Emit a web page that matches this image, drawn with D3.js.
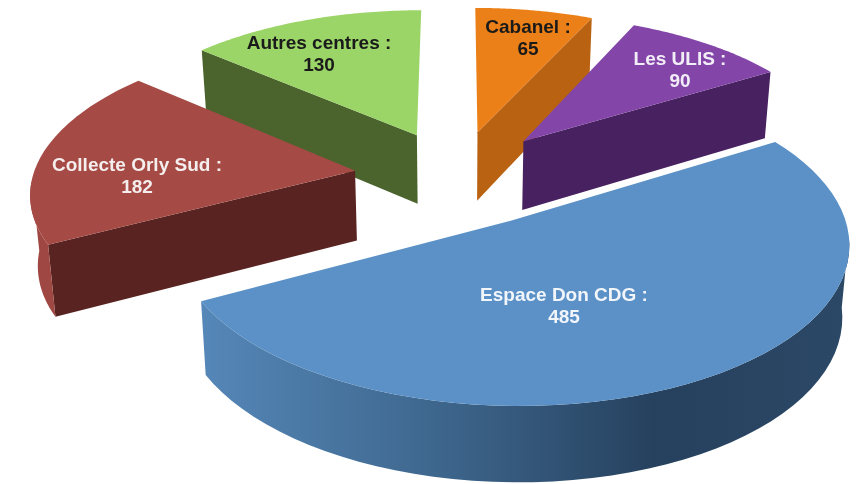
<!DOCTYPE html>
<html>
<head>
<meta charset="utf-8">
<script src="https://cdn.jsdelivr.net/npm/d3@7"></script>
<style>
  html, body { margin: 0; padding: 0; background: #fff; }
  svg { display: block; filter: blur(0.4px); }
  text { font-family: "Liberation Sans", Arial, sans-serif; font-weight: bold; font-size: 19px; text-anchor: middle; }
</style>
</head>
<body>
<svg id="chart" width="865" height="484"></svg>
<script>
const names = ["Cabanel", "Les ULIS", "Espace Don CDG", "Collecte Orly Sud", "Autres centres"];
const values = [65, 90, 485, 182, 130];

const topColors = ["#ec8018", "#8445a8", "#5b91c6", "#a54a44", "#9bd467"];
const wallColors = ["#b96212", "#482160", "#253f5b", "#582320", "#4b642e"];
const rimColors = ["#b96212", "#482160", "url(#blue-rim)", "#9f4742", "#4b642e"];
const textColors = ["#1a1a1a", "#f2eef8", "#f2f6fb", "#f5eeee", "#1a1a1a"];
const explodes = [0.31, 0.32, 0.33, 0.32, 0.31];
const labelX = [528, 680, 564, 137, 319];
const labelY = [33, 65, 301, 171, 49];

// projection of the pie plane, with a little perspective
const cx = 457;
const cy = 176;
const scaleX = 322;
const scaleY = 150;
const perspective = 0.125;
const thickness = 70;
const converge = 0.018;

function project(u, v) {
  const w = 1 + perspective * v;
  return [cx + (scaleX * u) / w, cy - (scaleY * v) / w];
}

// same point on the underside of the slice
function sink(u, v) {
  const p = project(u, v);
  return [p[0] + (cx - p[0]) * converge, p[1] + thickness * (1 - 0.07 * v)];
}

const svg = d3.select("#chart");

const gradient = svg.append("defs").append("linearGradient")
  .attr("id", "blue-rim")
  .attr("gradientUnits", "userSpaceOnUse")
  .attr("x1", 200).attr("x2", 850).attr("y1", 0).attr("y2", 0);
gradient.append("stop").attr("offset", "0").attr("stop-color", "#5587b8");
gradient.append("stop").attr("offset", "0.35").attr("stop-color", "#3f688f");
gradient.append("stop").attr("offset", "0.7").attr("stop-color", "#26415e");
gradient.append("stop").attr("offset", "1").attr("stop-color", "#2b4866");

const pie = d3.pie().sort(null).value((d) => d);
const line = d3.line();

const slices = pie(values).map((d, i) => {
  const mid = (d.startAngle + d.endAngle) / 2;
  const ox = explodes[i] * Math.sin(mid);
  const oy = explodes[i] * Math.cos(mid);
  const arc = d3.range(0, 61).map((k) => {
    const a = d.startAngle + ((d.endAngle - d.startAngle) * k) / 60;
    return [ox + Math.sin(a), oy + Math.cos(a)];
  });
  return { i, ox, oy, arc, start: d.startAngle, end: d.endAngle };
});

function drawWall(g, s, end) {
  g.append("path")
    .attr("d", line([
      project(s.ox, s.oy),
      project(end[0], end[1]),
      sink(end[0], end[1]),
      sink(s.ox, s.oy),
    ]) + "Z")
    .attr("fill", wallColors[s.i]);
}

// far slices first so the nearer ones paint over them
slices
  .slice()
  .sort((a, b) => b.oy - a.oy)
  .forEach((s) => {
    const g = svg.append("g");

    // only the cut faces turned towards the viewer are drawn
    if (Math.sin(s.start) < -1e-6) drawWall(g, s, s.arc[0]);
    if (Math.sin(s.end) > 1e-6) drawWall(g, s, s.arc[s.arc.length - 1]);

    // same for the outer rim: just the part of the arc facing front
    const front = s.arc.filter((p) => p[1] - s.oy < -0.05);
    if (front.length > 1) {
      const rimTop = front.map((p) => project(p[0], p[1]));
      const rimBottom = front.map((p) => sink(p[0], p[1])).reverse();
      g.append("path")
        .attr("d", line(rimTop.concat(rimBottom)) + "Z")
        .attr("fill", rimColors[s.i]);
    }

    const topEdge = s.arc.map((p) => project(p[0], p[1]));
    g.append("path")
      .attr("d", line([project(s.ox, s.oy)].concat(topEdge)) + "Z")
      .attr("fill", topColors[s.i]);
  });

names.forEach((name, i) => {
  const label = svg.append("text")
    .attr("x", labelX[i])
    .attr("y", labelY[i])
    .attr("fill", textColors[i]);
  label.append("tspan").attr("x", labelX[i]).text(name + " :");
  label.append("tspan").attr("x", labelX[i]).attr("dy", 22).text(values[i]);
});
</script>
</body>
</html>
